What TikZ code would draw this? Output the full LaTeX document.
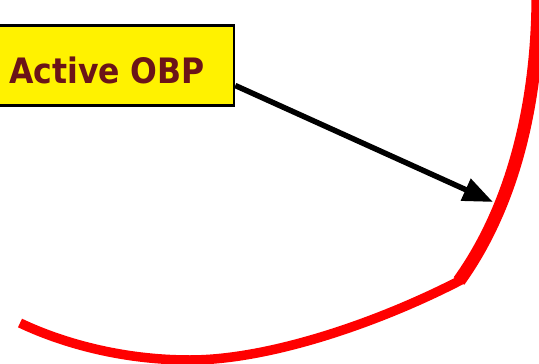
\documentclass[tikz,border=0pt]{standalone}
\usepackage{fontspec}
\usepackage{tikz}
\usetikzlibrary{arrows.meta}
\newfontfamily\boxfont[FakeStretch=0.9]{DejaVu Sans}
\definecolor{darkmaroon}{HTML}{6B1418}

\begin{document}
\begin{tikzpicture}[x=1pt,y=-1pt]
        \useasboundingbox (0,0) rectangle (539,364);

        \tikzset{
            labelbox/.style={draw=black, line width=2.5pt, fill=yellow,
                minimum width=254pt, minimum height=80pt,
                text height=35pt, text depth=0pt,
                font=\boxfont\bfseries\fontsize{35}{40}\selectfont,
                text=darkmaroon},
            pointer/.style={line width=5.5pt, -{Triangle[length=30pt,width=23pt]}}
        }

        % the membrane edge
        \draw [red, line width=13pt] (538,-6) .. controls (538,110) and (510,210) .. (459,281);
        \draw [red, line width=9.5pt] (461,280) .. controls (380,322) and (270,360) .. (190,360)
            .. controls (120,360) and (60,342) .. (20,323);

        \coordinate (obp) at (493,202);
        \node [labelbox] (active) at (107,65.5) {Active OBP};
        \draw [pointer] ([yshift=-20pt]active.east) -- (obp);
    \end{tikzpicture}
\end{document}
